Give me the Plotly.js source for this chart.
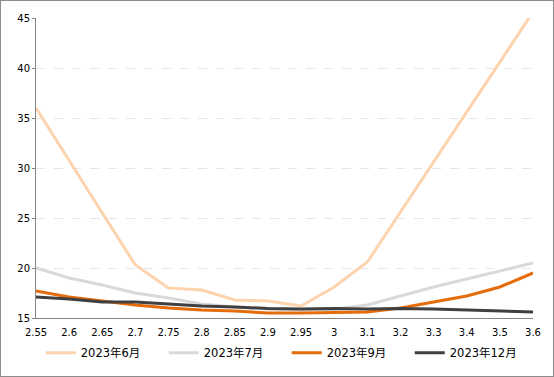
<!DOCTYPE html>
<html><head><meta charset="utf-8">
<script src="https://cdn.plot.ly/plotly-3.0.1.min.js"></script>
<style>html,body{margin:0;padding:0;background:#fff}#c{width:552px;height:375px;border:1px solid #8c8c8c}</style>
</head><body><div id="c"></div>
<script>
const categories = ["2.55","2.6","2.65","2.7","2.75","2.8","2.85","2.9","2.95","3","3.1","3.2","3.3","3.4","3.5","3.6"];
const jun = [36.0,30.7,25.5,20.3,18.0,17.8,16.8,16.7,16.2,18.1,20.6,25.6,30.6,35.6,40.6,45.6];
const jul = [20.0,19.0,18.3,17.5,17.0,16.4,16.1,15.9,15.8,15.9,16.3,17.2,18.1,18.9,19.7,20.5];
const sep = [17.7,17.1,16.7,16.3,16.0,15.8,15.7,15.5,15.5,15.55,15.6,16.0,16.6,17.2,18.1,19.5];
const dec = [17.1,16.9,16.6,16.6,16.4,16.2,16.1,15.95,15.9,15.95,15.9,15.95,15.9,15.8,15.7,15.6];
const names = ["2023年6月","2023年7月","2023年9月","2023年12月"];
const colors = ["#FDD3AE","#D9D9D9","#E46C0A","#404040"];
const series = [jun,jul,sep,dec];
const traces = series.map((s,i)=>({x:categories,y:s,type:'scatter',mode:'lines',name:names[i],
  line:{color:colors[i],width:3},hoverinfo:'skip'}));
const layout = {
  width:552,height:375,
  margin:{l:35,r:20,t:17,b:58},
  paper_bgcolor:'#fff',plot_bgcolor:'#fff',
  font:{family:'DejaVu Sans, "Noto Sans CJK SC", sans-serif',size:10,color:'#000'},
  showlegend:true,
  legend:{orientation:'h',x:0.072,xanchor:'left',xref:'container',y:0.062,yref:'container',yanchor:'middle',
    bgcolor:'rgba(0,0,0,0)',
    font:{size:11.5,family:'DejaVu Sans, "Noto Sans CJK SC", sans-serif'},entrywidth:78,entrywidthmode:'pixels',
    traceorder:'normal'},
  xaxis:{type:'category',showgrid:false,zeroline:false,showline:true,linecolor:'#868686',linewidth:1,
    ticks:'',ticklabelstandoff:5,tickfont:{size:10},fixedrange:true,range:[0,15]},
  yaxis:{range:[15,45],dtick:5,tick0:15,showgrid:true,gridcolor:'#E6E6E6',griddash:'dash',gridwidth:1,
    zeroline:false,showline:true,linecolor:'#868686',linewidth:1,ticks:'outside',ticklen:3,tickcolor:'#868686',
    tickfont:{size:10},fixedrange:true}
};
Plotly.newPlot('c',traces,layout,{staticPlot:true,displayModeBar:false});
</script></body></html>
